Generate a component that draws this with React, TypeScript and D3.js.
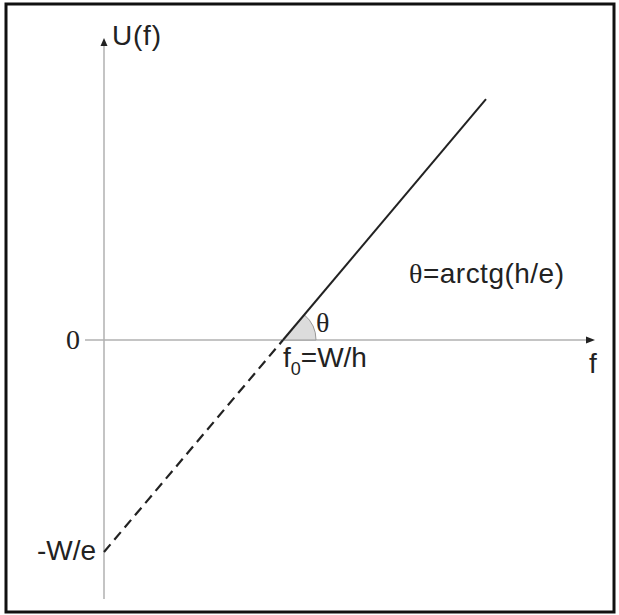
import React from "react";
import * as d3 from "d3";

// Data (units: f in multiples of f0 = W/h, U in multiples of W/e)
const solidLine = [
  { f: 1, U: 0 },
  { f: 2.134, U: 1.136 },
];
const dashedLine = [
  { f: 0, U: -1 },
  { f: 1, U: 0 },
];
const xAxisExtent = [-0.106, 2.743];
const yAxisExtent = [-1.222, 1.425];
const yTickLabels = [
  { U: 0, label: "0" },
  { U: -1, label: "-W/e" },
];

const W = 619;
const H = 615;

export default function App() {
  const x = d3.scaleLinear().domain([0, 1]).range([104, 283]);
  const y = d3.scaleLinear().domain([0, -1]).range([340, 552]);
  const line = d3
    .line<{ f: number; U: number }>()
    .x((d) => x(d.f))
    .y((d) => y(d.U));

  const x0 = x(0);
  const y0 = y(0);
  const xEnd = x(xAxisExtent[1]);
  const yTop = y(yAxisExtent[1]);

  // angle wedge at f0
  const fx = x(1);
  const p1 = solidLine[1];
  const ang = Math.atan2(y(p1.U) - y0, x(p1.f) - fx);
  const r = 33;
  const arcPath = `M${fx},${y0} L${fx + r},${y0} A${r},${r} 0 0 0 ${fx + r * Math.cos(ang)},${y0 + r * Math.sin(ang)} Z`;

  const font = "'Liberation Sans', Arial, sans-serif";
  const serif = "'Liberation Serif', 'Times New Roman', serif";
  const axisColor = "#b0b0b0";
  const ink = "#222";

  return (
    <svg
      width={W}
      height={H}
      style={{ position: "absolute", left: 0, top: 0, background: "#fff" }}
    >
      <rect x={0} y={0} width={W} height={H} fill="#fff" />
      <rect x={6} y={4} width={608} height={608} fill="none" stroke="#111" strokeWidth={3} />

      {/* axes */}
      <line x1={x(xAxisExtent[0])} y1={y0} x2={xEnd - 8} y2={y0} stroke={axisColor} strokeWidth={1.5} />
      <path d={`M${xEnd},${y0} L${xEnd - 9},${y0 - 3.5} L${xEnd - 9},${y0 + 3.5} Z`} fill={ink} />
      <line x1={x0} y1={y(yAxisExtent[0])} x2={x0} y2={yTop + 7} stroke={axisColor} strokeWidth={1.5} />
      <path d={`M${x0},${yTop} L${x0 - 3.5},${yTop + 8} L${x0 + 3.5},${yTop + 8} Z`} fill={ink} />

      {/* angle wedge */}
      <path d={arcPath} fill="#dcdcdc" stroke="#999" strokeWidth={1} />

      {/* lines */}
      <path d={line(solidLine) || ""} fill="none" stroke={ink} strokeWidth={2} />
      <path d={line(dashedLine) || ""} fill="none" stroke={ink} strokeWidth={2.2} strokeDasharray="10,6" />

      {/* labels */}
      <text x={112} y={45} fontFamily={font} fontSize={28} fill={ink} textLength={49}>U(f)</text>
      <text x={589} y={373} fontFamily={font} fontSize={28} fill={ink}>f</text>
      <text
        x={73}
        y={y(yTickLabels[0].U) + 9}
        textAnchor="middle"
        fontFamily={serif}
        fontSize={28}
        fill={ink}
      >
        {yTickLabels[0].label}
      </text>
      <text x={96} y={y(yTickLabels[1].U) + 8} textAnchor="end" fontFamily={font} fontSize={28} fill={ink}>
        {yTickLabels[1].label}
      </text>
      <text x={283} y={367} fontFamily={font} fontSize={28} fill={ink}>
        f<tspan fontSize={18} dy={8}>0</tspan>
        <tspan dy={-8}>=W/h</tspan>
      </text>
      <text x={316} y={332} fontFamily={serif} fontSize={28} fill={ink}>θ</text>
      <text x={409} y={283} fontFamily={font} fontSize={28} fill={ink} textLength={155}>
        <tspan fontFamily={serif}>θ</tspan>=arctg(h/e)
      </text>
    </svg>
  );
}
